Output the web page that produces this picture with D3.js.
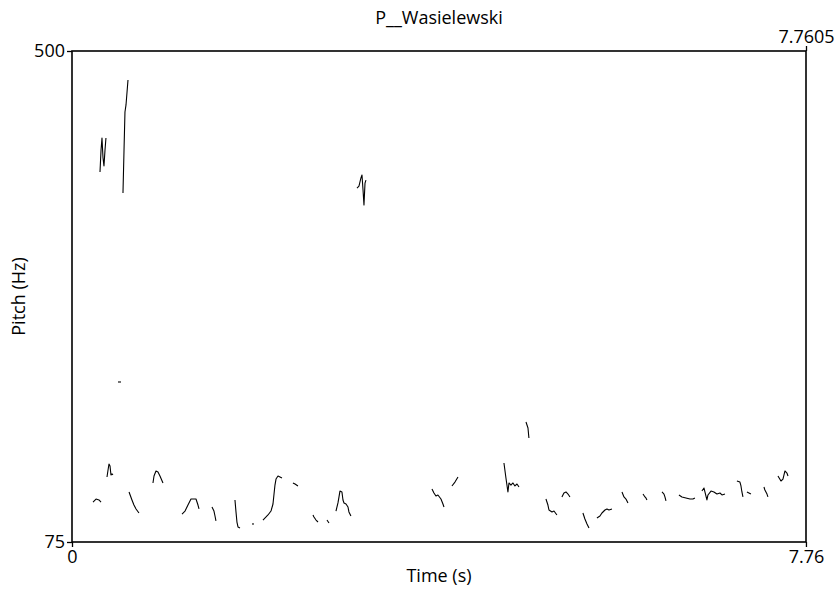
<!DOCTYPE html>
<html>
<head>
<meta charset="utf-8">
<script src="https://cdn.jsdelivr.net/npm/d3@7"></script>
<style>
  body { margin: 0; background: #fff; }
  svg text { font-family: "Open Sans", sans-serif; font-size: 18px; fill: #000; }
</style>
</head>
<body>
<div id="container"></div>
<script>
/* CONSTANTS AND GLOBALS */
const width = 839,
  height = 589,
  margin = { top: 51, bottom: 47, left: 72, right: 33 };

const title = "P__Wasielewski";
const timeRange = [0, 7.7605];
const pitchRange = [75, 500];
const bottomTicks = [0, 7.76];
const topTicks = [7.7605];
const leftTicks = [75, 500];

// pitch contour pieces, [time (s), pitch (Hz)]
const seg01 = [[0.222,109.6],[0.254,112.2],[0.285,111.4],[0.307,109.6]];
const seg02 = [[0.296,395.3],[0.307,414.3],[0.317,424.7],[0.328,407.4],[0.338,400.5],[0.349,414.3],[0.359,424.7]];
const seg03 = [[0.370,131.3],[0.381,137.3],[0.391,142.5],[0.402,140.8],[0.412,133.0],[0.423,133.9],[0.433,133.0]];
const seg04 = [[0.486,213.5],[0.518,213.5]];
const seg05 = [[0.539,377.1],[0.550,414.3],[0.560,447.2],[0.571,453.3],[0.592,474.9]];
const seg06 = [[0.603,118.3],[0.634,111.4],[0.655,107.0],[0.677,103.6],[0.708,100.1]];
const seg07 = [[0.856,126.1],[0.867,132.1],[0.888,136.5],[0.909,135.6],[0.930,132.1],[0.962,126.1]];
const seg08 = [[1.163,99.2],[1.195,101.8],[1.226,107.0],[1.258,112.2],[1.311,112.2],[1.332,107.0],[1.343,103.6]];
const seg09 = [[1.480,105.3],[1.501,101.8],[1.512,97.5],[1.522,93.2]];
const seg10 = [[1.723,111.4],[1.734,101.0],[1.744,92.3],[1.755,88.0],[1.776,87.1]];
const seg11 = [[1.903,90.6],[1.924,90.6]];
const seg12 = [[2.019,94.0],[2.072,98.4],[2.104,101.8],[2.125,107.9],[2.136,116.5],[2.146,124.3],[2.157,129.5],[2.178,132.1],[2.199,131.3],[2.220,130.4]];
const seg13 = [[2.336,126.1],[2.358,125.2],[2.389,123.5]];
const seg14 = [[2.548,98.4],[2.558,96.6],[2.580,94.0],[2.601,92.3]];
const seg15 = [[2.696,94.0],[2.717,91.4]];
const seg16 = [[2.791,101.8],[2.812,108.8],[2.823,114.0],[2.833,119.1],[2.854,118.3],[2.865,111.4],[2.876,108.8],[2.897,107.9],[2.918,105.3],[2.928,101.0],[2.949,97.5]];
const seg17 = [[3.013,381.4],[3.034,383.1],[3.055,390.1],[3.066,392.7],[3.077,379.7],[3.087,366.7],[3.098,385.7],[3.108,388.3]];
const seg18 = [[3.806,120.9],[3.827,117.4],[3.848,114.8],[3.869,115.7],[3.901,112.2],[3.922,107.9],[3.933,105.3]];
const seg19 = [[4.017,123.5],[4.049,126.9],[4.081,131.3]];
const seg20 = [[4.567,143.4],[4.588,130.4],[4.609,118.3],[4.620,126.1],[4.641,124.3],[4.662,126.1],[4.683,123.5],[4.705,125.2],[4.726,122.6]];
const seg21 = [[4.800,178.9],[4.821,173.7],[4.831,165.0]];
const seg22 = [[5.011,112.2],[5.032,107.0],[5.043,102.7],[5.075,101.0],[5.096,101.8],[5.127,98.4]];
const seg23 = [[5.180,114.0],[5.201,117.4],[5.223,118.3],[5.244,116.5],[5.265,114.0]];
const seg24 = [[5.402,100.1],[5.423,94.9],[5.445,90.6],[5.466,87.1]];
const seg25 = [[5.550,95.8],[5.582,97.5],[5.603,100.1],[5.635,102.7],[5.656,103.6],[5.677,102.7],[5.709,103.6]];
const seg26 = [[5.815,118.3],[5.836,114.0],[5.857,112.2],[5.878,108.8]];
const seg27 = [[6.037,116.5],[6.058,114.0],[6.068,113.1],[6.079,111.4]];
const seg28 = [[6.238,118.3],[6.259,116.5],[6.269,114.0],[6.280,110.5]];
const seg29 = [[6.417,115.7],[6.449,114.0],[6.491,113.1],[6.534,112.2],[6.565,112.2],[6.586,113.1]];
const seg30 = [[6.660,119.1],[6.682,121.7],[6.692,118.3],[6.703,114.8],[6.713,111.4],[6.724,115.7],[6.756,119.1],[6.787,118.3],[6.819,116.5],[6.851,117.4],[6.872,115.7],[6.904,116.5]];
const seg31 = [[7.030,127.8],[7.062,126.9],[7.073,123.5],[7.083,118.3],[7.094,114.0]];
const seg32 = [[7.136,118.3],[7.178,116.5]];
const seg33 = [[7.316,122.6],[7.326,120.0],[7.348,116.5],[7.358,114.0]];
const seg34 = [[7.464,132.1],[7.496,127.8],[7.517,129.5],[7.538,136.5],[7.559,134.7],[7.570,132.1]];

const segments = [seg01, seg02, seg03, seg04, seg05, seg06, seg07, seg08, seg09, seg10,
  seg11, seg12, seg13, seg14, seg15, seg16, seg17, seg18, seg19, seg20, seg21, seg22,
  seg23, seg24, seg25, seg26, seg27, seg28, seg29, seg30, seg31, seg32, seg33, seg34];

/* SCALES */
const xScale = d3.scaleLinear()
  .domain(timeRange)
  .range([margin.left, width - margin.right]);

const yScale = d3.scaleLinear()
  .domain(pitchRange)
  .range([height - margin.bottom, margin.top]);

const svg = d3.select("#container")
  .append("svg")
  .attr("width", width)
  .attr("height", height);

// contours
const line = d3.line()
  .x(d => xScale(d[0]))
  .y(d => yScale(d[1]));

svg.append("g")
  .selectAll("path")
  .data(segments)
  .join("path")
  .attr("d", line)
  .attr("fill", "none")
  .attr("stroke", "#000")
  .attr("stroke-width", 1.1)
  .attr("stroke-linejoin", "round");

// frame
svg.append("rect")
  .attr("x", xScale(timeRange[0]))
  .attr("y", yScale(pitchRange[1]))
  .attr("width", xScale(timeRange[1]) - xScale(timeRange[0]))
  .attr("height", yScale(pitchRange[0]) - yScale(pitchRange[1]))
  .attr("fill", "none")
  .attr("stroke", "#000")
  .attr("stroke-width", 1.6);

/* AXES */
function styleAxis(g) {
  g.select(".domain").remove();
  g.selectAll(".tick line").attr("stroke", "#000").attr("stroke-width", 1.3);
  g.selectAll(".tick text")
    .attr("font-size", "18px")
    .attr("font-family", "'Open Sans', sans-serif")
    .attr("fill", "#000");
}

svg.append("g")
  .attr("transform", `translate(0, ${height - margin.bottom})`)
  .call(d3.axisBottom(xScale).tickValues(bottomTicks).tickSize(5).tickSizeOuter(0).tickPadding(3)
    .tickFormat(d => d === 0 ? "0" : d3.format(".2f")(d)))
  .call(styleAxis);

svg.append("g")
  .attr("transform", `translate(0, ${margin.top})`)
  .call(d3.axisTop(xScale).tickValues(topTicks).tickSize(5).tickSizeOuter(0).tickPadding(3)
    .tickFormat(d3.format(".4f")))
  .call(styleAxis);

svg.append("g")
  .attr("transform", `translate(${margin.left}, 0)`)
  .call(d3.axisLeft(yScale).tickValues(leftTicks).tickSize(5).tickSizeOuter(0).tickPadding(2))
  .call(styleAxis);

// labels
svg.append("text")
  .attr("x", (margin.left + width - margin.right) / 2)
  .attr("y", 24)
  .attr("text-anchor", "middle")
  .text(title);

svg.append("text")
  .attr("x", (margin.left + width - margin.right) / 2)
  .attr("y", 582)
  .attr("text-anchor", "middle")
  .text("Time (s)");

svg.append("text")
  .attr("transform", `translate(25, ${(margin.top + height - margin.bottom) / 2}) rotate(-90)`)
  .attr("text-anchor", "middle")
  .text("Pitch (Hz)");
</script>
</body>
</html>
